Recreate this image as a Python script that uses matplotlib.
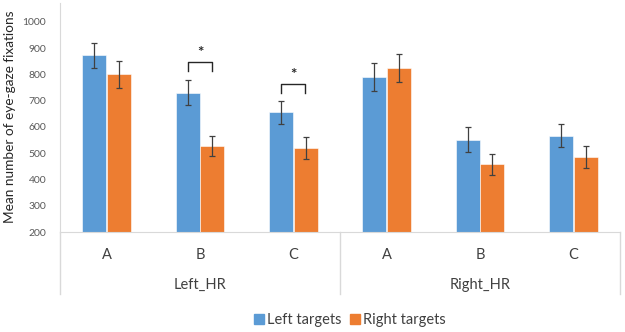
import numpy as np
import matplotlib.pyplot as plt
from matplotlib.patches import Patch

plt.rcParams['font.family'] = ['Lato', 'DejaVu Sans']

groups = ['Left_HR', 'Right_HR']
conditions = ['A', 'B', 'C', 'A', 'B', 'C']
left_targets = [872, 730, 656, 790, 552, 567]
left_err = [48, 48, 43, 54, 48, 44]
right_targets = [800, 528, 521, 825, 459, 486]
right_err = [50, 38, 42, 54, 40, 43]

# significance brackets: (category index, bracket top, bracket leg bottom)
sig_idx = [1, 2]
sig_top = [847, 762]
sig_bottom = [814, 730]

blue = '#5B9BD5'
orange = '#ED7D31'

fig = plt.figure(figsize=(6.25, 3.32), dpi=100)
ax = fig.add_axes([60 / 625, 1 - 232.3 / 332, 560 / 625, 229.3 / 332])

x = np.arange(len(conditions))
w = 0.255
ax.bar(x - w / 2 - 0.005, left_targets, w, color=blue, edgecolor='white', linewidth=0.4,
       yerr=left_err, error_kw=dict(ecolor='#404040', elinewidth=0.9, capsize=2.5, capthick=0.9))
ax.bar(x + w / 2 + 0.005, right_targets, w, color=orange, edgecolor='white', linewidth=0.4,
       yerr=right_err, error_kw=dict(ecolor='#404040', elinewidth=0.9, capsize=2.5, capthick=0.9))

# brackets with stars
for i, top, bot in zip(sig_idx, sig_top, sig_bottom):
    xl = i - w / 2
    xr = i + w / 2
    ax.plot([xl, xl, xr, xr], [bot, top, top, bot], color='#262626', lw=1.0)
    ax.text(i, top + 8, '*', ha='center', va='bottom', fontsize=11, fontweight='bold', color='#262626')

ax.set_xlim(-0.5, len(conditions) - 0.5)
ax.set_ylim(200, 1000 + (21.7 - 3) / 0.2633)
ax.set_yticks(range(200, 1001, 100))
ax.tick_params(axis='y', length=0, labelsize=7.5, labelcolor='#595959', pad=10)
ax.tick_params(axis='x', length=0, labelbottom=False)
for s in ['top', 'right']:
    ax.spines[s].set_visible(False)
ax.spines['left'].set_color('#D9D9D9')
ax.spines['bottom'].set_color('#D9D9D9')


def ax_y(px):
    return (232.3 - px) / 229.3


# multi-level category axis
tr = ax.get_xaxis_transform()
for xi, lab in zip(x, conditions):
    ax.text(xi, ax_y(255), lab, transform=tr, ha='center', va='center', fontsize=10.5, color='#404040')
for gi, g in enumerate(groups):
    ax.text(gi * 3 + 1, ax_y(285), g, transform=tr, ha='center', va='center', fontsize=10.5, color='#404040')
for xd in [-0.5, 2.5, 5.5]:
    ax.plot([xd, xd], [0, ax_y(294)], transform=tr, color='#D9D9D9', lw=1.0, clip_on=False)

fig.text(10 / 625, 1 - 117 / 332, 'Mean number of eye-gaze fixations', rotation=90,
         ha='center', va='center', fontsize=9.8, color='#262626')

handles = [Patch(color=blue, label='Left targets'), Patch(color=orange, label='Right targets')]
fig.legend(handles=handles, loc='center', bbox_to_anchor=(350 / 625, 1 - 320 / 332), ncol=2,
           frameon=False, fontsize=10.5, handlelength=0.7, handleheight=0.7, handletextpad=0.2,
           columnspacing=0.6, labelcolor='#404040')

fig.savefig('out.png', dpi=100)
